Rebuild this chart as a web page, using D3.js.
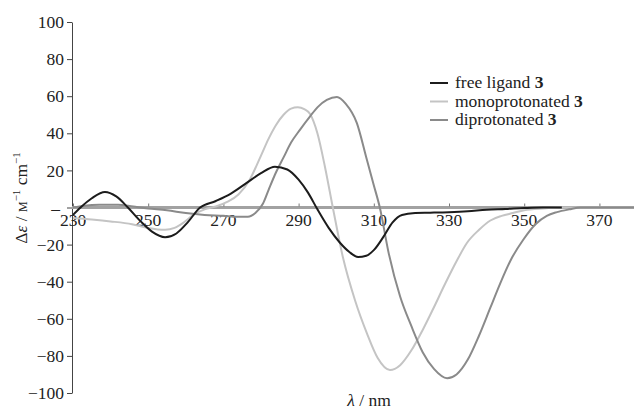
<!DOCTYPE html>
<html>
<head>
<meta charset="utf-8">
<script src="https://cdnjs.cloudflare.com/ajax/libs/d3/7.8.5/d3.min.js"></script>
<style>
  body { margin: 0; background: white; }
  text { font-family: "Liberation Serif", "DejaVu Serif", serif; fill: #222; }
</style>
</head>
<body>
<div id="chart"></div>
<script>
// wavelengths (nm) and delta epsilon values
var ligandNm = [230,232,235,238.5,241.5,244.6,248,251,254.5,257.5,260.5,263.8,268,272,276,280,283.7,287,290,292.5,295,298,301,303.5,305.8,308,310,312.5,315,317.5,321,325,330,335,340,345,350,355,360];
var ligandDe = [-4,0,5,8.4,6,0,-7.5,-13,-16,-14,-8,0,3.5,7.5,13,18.5,22,20.5,15,8,-1,-11,-19,-24,-26.7,-26,-23,-16,-8,-4,-3,-2.8,-2.5,-2,-1.2,-0.8,-0.3,0,0];

var monoNm = [230,235,240,245.7,250,254.5,257,259.5,262,265,268,271,274,277,280,282,284,286,288,289.8,291.5,293,295,297,299.1,301.8,305,308.2,311,314.3,317,320,323,325.7,329,332,334.8,338,341,344,347,350,355,360,380];
var monoDe = [-5.7,-6.5,-7.5,-9,-11,-12,-11,-8,-4,-1,0.5,3,7,15,28,37,44.5,50,53.3,54,53,50.5,40,22,0,-27,-50,-68,-81,-87.6,-85,-77,-66,-55,-41,-29,-19,-12,-7,-4.5,-3,-1.5,-0.5,0,0];

var diNm = [230,233,237,242,246,250,255,260,265,270,273.6,276.5,278.5,280.5,282,284,286,288,290.4,293,295,297.5,300.2,302.5,305.5,308,310,311.6,314,317,320,323,326,329.5,332,335,338,341,343.6,346.5,349.7,353,356,358.7,362,365,380];
var diDe = [0,1,1.5,1.5,0.5,-0.5,-1.5,-3,-4,-4.5,-5,-5,-3,2,9.4,19,27,35,42,49,54,58,59.6,56,45.5,27,12,0,-25,-48,-64,-78,-87,-92,-90,-82,-69,-54,-41,-28,-17.5,-9,-4.5,-2.5,-1,0,0];

var xTicks = [230,250,270,290,310,330,350,370];
var yTicks = [-100,-80,-60,-40,-20,0,20,40,60,80,100];
var seriesNames = ["free ligand", "monoprotonated", "diprotonated"];
var seriesColors = ["#1c1c1c", "#c4c4c4", "#8a8a8a"];

var width = 634, height = 410;

var x = d3.scaleLinear().domain([230, 379.2]).range([73, 634]);
var y = d3.scaleLinear().domain([-100, 100]).range([393, 22]);

var svg = d3.select("#chart").append("svg")
    .attr("width", width)
    .attr("height", height);

// y axis
var yAxis = svg.append("g")
    .attr("transform", "translate(72,0)")
    .call(d3.axisLeft(y).tickValues(yTicks).tickSize(5).tickSizeOuter(0)
        .tickFormat(function(d) { return d == 0 ? "\u2013" : d3.format("")(d).replace("-", "\u2212"); }));
yAxis.select(".domain").attr("stroke", "#444").attr("stroke-width", 1);
yAxis.selectAll(".tick line").attr("stroke", "#444");
yAxis.selectAll(".tick text")
    .attr("x", function(d) { return d == 0 ? -12 : -8; })
    .style("font-size", "17.5px")
    .style("font-family", "Liberation Serif")
    .attr("fill", "#222");

// zero line acting as x axis
svg.append("line")
    .attr("x1", 72).attr("x2", 634)
    .attr("y1", y(0)).attr("y2", y(0))
    .attr("stroke", "#a2a2a2")
    .attr("stroke-width", 3);

var xAxis = svg.append("g")
    .attr("transform", "translate(0," + (y(0) - 1) + ")")
    .call(d3.axisTop(x).tickValues(xTicks).tickSize(3).tickSizeOuter(0).tickFormat(""));
xAxis.select(".domain").remove();
xAxis.selectAll(".tick line").attr("stroke", "#777");

svg.selectAll(".xlab")
    .data(xTicks)
    .enter().append("text")
    .attr("class", "xlab")
    .attr("x", function(d) { return x(d); })
    .attr("y", y(0) + 18)
    .attr("text-anchor", "middle")
    .style("font-size", "17.5px")
    .text(function(d) { return d; });

var line = d3.line()
    .x(function(d) { return x(d[0]); })
    .y(function(d) { return y(d[1]); })
    .curve(d3.curveMonotoneX);

var series = [
    d3.zip(monoNm, monoDe),
    d3.zip(diNm, diDe),
    d3.zip(ligandNm, ligandDe)
];
var order = [1, 2, 0];

series.forEach(function(s, i) {
    svg.append("path")
        .datum(s)
        .attr("d", line)
        .attr("fill", "none")
        .attr("stroke", seriesColors[order[i]])
        .attr("stroke-width", 2);
});

// legend
var legend = svg.append("g").attr("transform", "translate(430,83)");
seriesNames.forEach(function(n, i) {
    legend.append("line")
        .attr("x1", 0).attr("x2", 18)
        .attr("y1", i * 18.5).attr("y2", i * 18.5)
        .attr("stroke", seriesColors[i])
        .attr("stroke-width", 2);
    var t = legend.append("text")
        .attr("x", 25)
        .attr("y", i * 18.5 + 5)
        .style("font-size", "17.5px");
    t.append("tspan").text(n + " ");
    t.append("tspan").style("font-weight", "bold").text("3");
});

// axis titles
var yl = svg.append("text")
    .attr("transform", "translate(27,198) rotate(-90)")
    .attr("text-anchor", "middle")
    .style("font-size", "17.5px");
yl.append("tspan").text("\u0394");
yl.append("tspan").style("font-style", "italic").text("\u03b5");
yl.append("tspan").text(" / ");
yl.append("tspan").style("font-size", "12px").text("M");
yl.append("tspan").attr("dy", -7).style("font-size", "11px").text("\u22121");
yl.append("tspan").attr("dy", 7).text(" cm");
yl.append("tspan").attr("dy", -7).style("font-size", "11px").text("\u22121");

var xl = svg.append("text")
    .attr("x", 369)
    .attr("y", 406)
    .attr("text-anchor", "middle")
    .style("font-size", "17.5px");
xl.append("tspan").style("font-style", "italic").text("\u03bb");
xl.append("tspan").text(" / nm");
</script>
</body>
</html>
